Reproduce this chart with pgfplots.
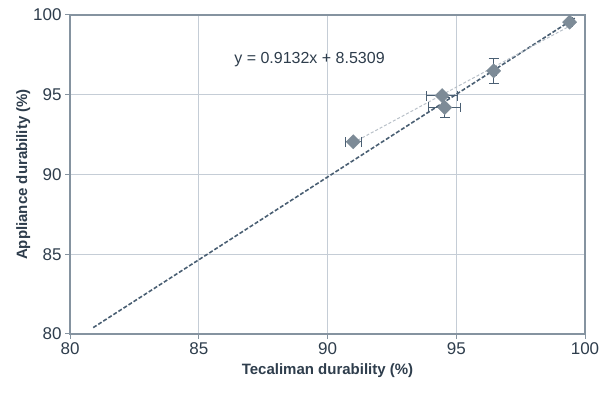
\documentclass[border=0pt]{standalone}
\usepackage{fontspec}
\setmainfont{Liberation Sans}
\usepackage{pgfplots}
\pgfplotsset{compat=1.18}
\definecolor{txt}{HTML}{2E3D4C}
\definecolor{gridc}{HTML}{C5CDD6}
\definecolor{axc}{HTML}{8593A0}
\definecolor{mk}{HTML}{7D8B97}
\definecolor{trend}{HTML}{4A5F73}
\definecolor{fit}{HTML}{B8C0C8}
\begin{document}
\begin{tikzpicture}
\begin{axis}[
  scale only axis, width=515pt, height=319pt,
  xmin=80, xmax=100, ymin=80, ymax=100,
  xtick={80,85,...,100}, ytick={80,85,...,100},
  grid=major, major grid style={gridc, line width=1.2pt},
  axis line style={axc, line width=1.3pt},
  tick style={axc, line width=1pt}, tick align=outside, major tick length=5pt,
  xtick pos=bottom, ytick pos=left,
  ticklabel style={font=\fontsize{17}{20}\selectfont, text=txt},
  /pgf/number format/assume math mode=true,
  xlabel={Tecaliman durability (\%)}, ylabel={Appliance durability (\%)},
  label style={font=\fontsize{15}{18}\selectfont\bfseries, text=txt},
  xlabel style={yshift=-2pt}, ylabel style={yshift=-4pt},
  clip=false,
]
% 1:1 reference line
\addplot[trend, dash pattern=on 4pt off 2pt, line width=1.6pt] coordinates {(80.9,80.4) (99.6,99.8)};
% fitted line through the measured points
\addplot[fit, dash pattern=on 3pt off 2pt, line width=1pt] coordinates {(91.0,92.0) (99.4,99.3)};
% measurements with error bars
\addplot[only marks, mark=square*, mark size=5pt, mark options={rotate=45, fill=mk, draw=mk},
  error bars/.cd, x dir=both, x explicit, y dir=both, y explicit,
  error bar style={trend, line width=1pt}, error mark options={rotate=90, mark size=5pt, trend, line width=1pt}]
  coordinates {
  (91.0,92.05) +- (0.3,0.1)
  (94.45,94.95) +- (0.6,0.1)
  (94.55,94.2) +- (0.62,0.6)
  (96.45,96.5) +- (0.1,0.78)
  (99.4,99.55) +- (0.1,0.1)
};
\node[font=\fontsize{16}{19}\selectfont, text=txt] at (axis cs:89.3,97.2) {y = 0.9132x + 8.5309};
\coordinate (bl) at (rel axis cs:-0.136,-0.194);
\coordinate (tr) at (rel axis cs:1.0388,1.047);
\end{axis}
\pgfresetboundingbox
\path (bl) rectangle (tr);
\end{tikzpicture}
\end{document}
